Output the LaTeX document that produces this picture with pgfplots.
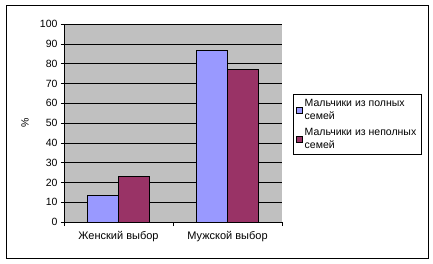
\documentclass[border=0pt]{standalone}
\usepackage{fontspec}
\setmainfont{Liberation Sans}
\usepackage{pgfplots}
\pgfplotsset{compat=1.18}
\definecolor{barblue}{HTML}{9999FF}
\definecolor{barred}{HTML}{993366}
\definecolor{plotgray}{HTML}{C0C0C0}
\begin{document}
\begin{tikzpicture}
\path (-64pt,-41pt) rectangle (369pt,222pt);
\begin{axis}[
  scale only axis, width=218pt, height=198pt,
  at={(0pt,0pt)}, anchor=south west,
  ybar=0pt, bar width=31pt,
  xmin=-0.5, xmax=1.5, ymin=0, ymax=100,
  xtick={0,1}, xticklabels={Женский выбор, Мужской выбор},
  minor xtick={-0.5,0.5,1.5},
  ytick={0,10,...,100},
  ymajorgrids, grid style={black, line width=0.6pt},
  axis background/.style={fill=plotgray},
  axis lines*=left,
  tick align=outside,
  major tick length=3pt, minor tick length=4pt,
  major x tick style={draw=none},
  tick style={black, line width=0.6pt},
  axis line style={black, line width=0.6pt},
  /pgf/number format/assume math mode=true,
  tick label style={font=\fontsize{10.5}{12}\selectfont},
  xticklabel style={font=\fontsize{11}{12}\selectfont, yshift=-3pt},
  ylabel={\%},
  ylabel style={at={(axis description cs:-0.179,0.5)}, anchor=center, font=\fontsize{10.5}{12}\selectfont},
  legend style={at={(axis description cs:1.050,0.338)}, anchor=south west,
    draw=black, fill=white, line width=0.6pt, font=\fontsize{10.5}{12.5}\selectfont,
    cells={align=left, anchor=west}, row sep=4pt, inner xsep=3pt, inner ysep=3pt},
  legend image code/.code={\draw[#1,draw=black,line width=0.5pt] (0pt,-3pt) rectangle (6pt,3pt);},
]
\addplot[fill=barblue, draw=black, line width=0.6pt] coordinates {(0,13.3) (1,86.7)};
\addplot[fill=barred, draw=black, line width=0.6pt] coordinates {(0,22.9) (1,77.1)};
\legend{Мальчики из полных\\семей, Мальчики из неполных\\семей}
\end{axis}
\draw[black, line width=0.8pt] (-58pt,-36pt) rectangle (364pt,217pt);
\end{tikzpicture}
\end{document}
